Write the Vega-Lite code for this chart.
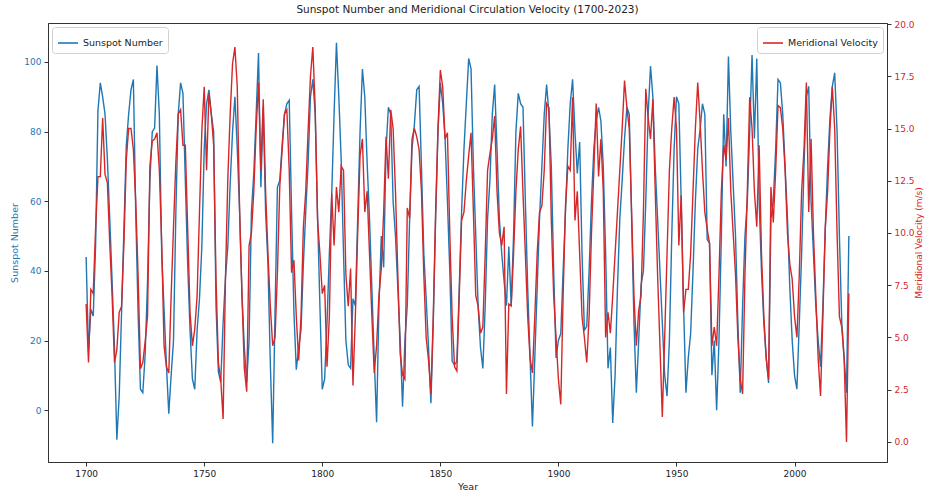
{
"$schema": "https://vega.github.io/schema/vega-lite/v6.json",
"width": 839, "height": 439,
"autosize": {"type": "none"},
"padding": {"left": 48, "top": 23, "right": 38, "bottom": 30},
"background": "white",
"config": {
  "font": "DejaVu Sans",
  "view": {"stroke": "#333", "strokeWidth": 1},
  "axis": {"grid": false, "domainColor": "#333", "tickColor": "#333", "tickSize": 4, "labelFontSize": 9, "titleFontSize": 9.5, "titleFontWeight": "normal", "labelPadding": 3, "labelFont": "DejaVu Sans", "titleFont": "DejaVu Sans"},
  "legend": {"labelFont": "DejaVu Sans"}
},
"title": {"text": "Sunspot Number and Meridional Circulation Velocity (1700-2023)", "fontSize": 10.5, "fontWeight": "normal", "color": "#222", "offset": 5, "font": "DejaVu Sans"},
"data": {"values": [
{"year":1700,"sunspot":44,"velocity":6.6},{"year":1701,"sunspot":17,"velocity":3.8},{"year":1702,"sunspot":29,"velocity":7.3},{"year":1703,"sunspot":27,"velocity":7.1},{"year":1704,"sunspot":47,"velocity":10.2},{"year":1705,"sunspot":86,"velocity":12.7},{"year":1706,"sunspot":94,"velocity":12.7},{"year":1707,"sunspot":90,"velocity":15.5},{"year":1708,"sunspot":85,"velocity":12.8},{"year":1709,"sunspot":72,"velocity":12.4},
{"year":1710,"sunspot":55,"velocity":9.5},{"year":1711,"sunspot":37,"velocity":7},{"year":1712,"sunspot":18,"velocity":3.8},{"year":1713,"sunspot":-8.5,"velocity":4.4},{"year":1714,"sunspot":4,"velocity":6.2},{"year":1715,"sunspot":28,"velocity":6.5},{"year":1716,"sunspot":52,"velocity":9.5},{"year":1717,"sunspot":76,"velocity":13.5},{"year":1718,"sunspot":85,"velocity":15},{"year":1719,"sunspot":92,"velocity":15},
{"year":1720,"sunspot":95,"velocity":14},{"year":1721,"sunspot":57,"velocity":11.5},{"year":1722,"sunspot":28,"velocity":8},{"year":1723,"sunspot":6,"velocity":3.5},{"year":1724,"sunspot":5,"velocity":3.8},{"year":1725,"sunspot":16,"velocity":4.8},{"year":1726,"sunspot":37,"velocity":6},{"year":1727,"sunspot":66,"velocity":13.2},{"year":1728,"sunspot":80,"velocity":14.4},{"year":1729,"sunspot":81,"velocity":14.5},
{"year":1730,"sunspot":99,"velocity":14.8},{"year":1731,"sunspot":85,"velocity":13},{"year":1732,"sunspot":45,"velocity":9.5},{"year":1733,"sunspot":29,"velocity":4.6},{"year":1734,"sunspot":13,"velocity":3.6},{"year":1735,"sunspot":-1,"velocity":3.3},{"year":1736,"sunspot":10,"velocity":7},{"year":1737,"sunspot":20,"velocity":10.3},{"year":1738,"sunspot":57,"velocity":13.4},{"year":1739,"sunspot":85,"velocity":15.7},
{"year":1740,"sunspot":94,"velocity":15.9},{"year":1741,"sunspot":91,"velocity":14.2},{"year":1742,"sunspot":66,"velocity":14.2},{"year":1743,"sunspot":42,"velocity":10.2},{"year":1744,"sunspot":23,"velocity":6.2},{"year":1745,"sunspot":9,"velocity":4.6},{"year":1746,"sunspot":6,"velocity":5.4},{"year":1747,"sunspot":23,"velocity":7},{"year":1748,"sunspot":32,"velocity":11},{"year":1749,"sunspot":47,"velocity":14.9},
{"year":1750,"sunspot":75,"velocity":17},{"year":1751,"sunspot":88,"velocity":13},{"year":1752,"sunspot":92,"velocity":16.7},{"year":1753,"sunspot":85,"velocity":15.7},{"year":1754,"sunspot":80,"velocity":14.2},{"year":1755,"sunspot":30,"velocity":7.8},{"year":1756,"sunspot":11,"velocity":3.8},{"year":1757,"sunspot":8,"velocity":3},{"year":1758,"sunspot":25,"velocity":1.1},{"year":1759,"sunspot":38,"velocity":7.8},
{"year":1760,"sunspot":47,"velocity":12.6},{"year":1761,"sunspot":65,"velocity":15.7},{"year":1762,"sunspot":80,"velocity":18.1},{"year":1763,"sunspot":90,"velocity":18.9},{"year":1764,"sunspot":75,"velocity":17},{"year":1765,"sunspot":57,"velocity":11},{"year":1766,"sunspot":33,"velocity":7},{"year":1767,"sunspot":18,"velocity":3.5},{"year":1768,"sunspot":8,"velocity":2.4},{"year":1769,"sunspot":20,"velocity":9.4},
{"year":1770,"sunspot":57,"velocity":10},{"year":1771,"sunspot":68,"velocity":12},{"year":1772,"sunspot":85,"velocity":15},{"year":1773,"sunspot":102.6,"velocity":17.2},{"year":1774,"sunspot":64,"velocity":13},{"year":1775,"sunspot":87,"velocity":16.4},{"year":1776,"sunspot":57,"velocity":12},{"year":1777,"sunspot":42,"velocity":9},{"year":1778,"sunspot":13.5,"velocity":6.5},{"year":1779,"sunspot":-9.5,"velocity":4.6},
{"year":1780,"sunspot":28,"velocity":5},{"year":1781,"sunspot":64,"velocity":8.1},{"year":1782,"sunspot":66,"velocity":12.2},{"year":1783,"sunspot":76,"velocity":14},{"year":1784,"sunspot":85,"velocity":15.7},{"year":1785,"sunspot":88,"velocity":15.9},{"year":1786,"sunspot":89,"velocity":13},{"year":1787,"sunspot":57,"velocity":8.1},{"year":1788,"sunspot":28,"velocity":8.7},{"year":1789,"sunspot":11.6,"velocity":6},
{"year":1790,"sunspot":18,"velocity":3.9},{"year":1791,"sunspot":23,"velocity":6},{"year":1792,"sunspot":42,"velocity":10.3},{"year":1793,"sunspot":57,"velocity":12},{"year":1794,"sunspot":71,"velocity":14.9},{"year":1795,"sunspot":90,"velocity":17.5},{"year":1796,"sunspot":95,"velocity":18.9},{"year":1797,"sunspot":85,"velocity":16},{"year":1798,"sunspot":56,"velocity":10.6},{"year":1799,"sunspot":30,"velocity":9},
{"year":1800,"sunspot":6,"velocity":7.1},{"year":1801,"sunspot":9,"velocity":7.5},{"year":1802,"sunspot":25,"velocity":3.6},{"year":1803,"sunspot":45,"velocity":6},{"year":1804,"sunspot":62,"velocity":11.9},{"year":1805,"sunspot":85,"velocity":9.4},{"year":1806,"sunspot":105.5,"velocity":12.2},{"year":1807,"sunspot":90,"velocity":11},{"year":1808,"sunspot":72,"velocity":13.2},{"year":1809,"sunspot":45,"velocity":13},
{"year":1810,"sunspot":20,"velocity":8},{"year":1811,"sunspot":13,"velocity":6.5},{"year":1812,"sunspot":12,"velocity":8.3},{"year":1813,"sunspot":32,"velocity":2.7},{"year":1814,"sunspot":30,"velocity":6},{"year":1815,"sunspot":55,"velocity":10},{"year":1816,"sunspot":80,"velocity":13.7},{"year":1817,"sunspot":98,"velocity":14.5},{"year":1818,"sunspot":90,"velocity":11},{"year":1819,"sunspot":71,"velocity":12},
{"year":1820,"sunspot":55,"velocity":9},{"year":1821,"sunspot":35,"velocity":6},{"year":1822,"sunspot":15,"velocity":3.3},{"year":1823,"sunspot":-3.5,"velocity":4.6},{"year":1824,"sunspot":30,"velocity":7},{"year":1825,"sunspot":50,"velocity":8.3},{"year":1826,"sunspot":41,"velocity":11},{"year":1827,"sunspot":75,"velocity":14.6},{"year":1828,"sunspot":87,"velocity":12.6},{"year":1829,"sunspot":85,"velocity":15.9},
{"year":1830,"sunspot":60,"velocity":15},{"year":1831,"sunspot":50,"velocity":12},{"year":1832,"sunspot":35,"velocity":8},{"year":1833,"sunspot":20,"velocity":4.2},{"year":1834,"sunspot":1,"velocity":3.2},{"year":1835,"sunspot":20,"velocity":3},{"year":1836,"sunspot":30,"velocity":11.2},{"year":1837,"sunspot":55,"velocity":10.7},{"year":1838,"sunspot":75,"velocity":14.5},{"year":1839,"sunspot":82,"velocity":15},
{"year":1840,"sunspot":92,"velocity":14.6},{"year":1841,"sunspot":93,"velocity":14},{"year":1842,"sunspot":70,"velocity":12},{"year":1843,"sunspot":45,"velocity":8},{"year":1844,"sunspot":32,"velocity":5},{"year":1845,"sunspot":18,"velocity":3.9},{"year":1846,"sunspot":2,"velocity":2.3},{"year":1847,"sunspot":25,"velocity":6},{"year":1848,"sunspot":55,"velocity":11},{"year":1849,"sunspot":80,"velocity":15},
{"year":1850,"sunspot":94,"velocity":17.8},{"year":1851,"sunspot":88,"velocity":17},{"year":1852,"sunspot":78,"velocity":14.5},{"year":1853,"sunspot":60,"velocity":14.8},{"year":1854,"sunspot":40,"velocity":10},{"year":1855,"sunspot":14,"velocity":6},{"year":1856,"sunspot":13,"velocity":3.6},{"year":1857,"sunspot":14,"velocity":3.4},{"year":1858,"sunspot":35,"velocity":7},{"year":1859,"sunspot":57,"velocity":10.6},
{"year":1860,"sunspot":75,"velocity":11},{"year":1861,"sunspot":88,"velocity":12.5},{"year":1862,"sunspot":101,"velocity":13.7},{"year":1863,"sunspot":98,"velocity":14.8},{"year":1864,"sunspot":70,"velocity":11},{"year":1865,"sunspot":50,"velocity":7},{"year":1866,"sunspot":30,"velocity":6.5},{"year":1867,"sunspot":18,"velocity":5.2},{"year":1868,"sunspot":12,"velocity":5.5},{"year":1869,"sunspot":30,"velocity":9},
{"year":1870,"sunspot":55,"velocity":13},{"year":1871,"sunspot":66,"velocity":13.8},{"year":1872,"sunspot":85,"velocity":14.5},{"year":1873,"sunspot":93.5,"velocity":15.6},{"year":1874,"sunspot":75,"velocity":12},{"year":1875,"sunspot":55,"velocity":10},{"year":1876,"sunspot":45,"velocity":9.4},{"year":1877,"sunspot":37,"velocity":10.3},{"year":1878,"sunspot":30,"velocity":2.3},{"year":1879,"sunspot":47,"velocity":6.6},
{"year":1880,"sunspot":30,"velocity":6.5},{"year":1881,"sunspot":50,"velocity":9},{"year":1882,"sunspot":80,"velocity":12},{"year":1883,"sunspot":91,"velocity":14},{"year":1884,"sunspot":88,"velocity":15.1},{"year":1885,"sunspot":87,"velocity":11.9},{"year":1886,"sunspot":60,"velocity":9},{"year":1887,"sunspot":35,"velocity":6},{"year":1888,"sunspot":15,"velocity":4},{"year":1889,"sunspot":-4.7,"velocity":3.3},
{"year":1890,"sunspot":15,"velocity":6},{"year":1891,"sunspot":35,"velocity":9},{"year":1892,"sunspot":55,"velocity":11},{"year":1893,"sunspot":70,"velocity":11.3},{"year":1894,"sunspot":85,"velocity":13},{"year":1895,"sunspot":93.5,"velocity":16.2},{"year":1896,"sunspot":85,"velocity":16},{"year":1897,"sunspot":70,"velocity":10.6},{"year":1898,"sunspot":40,"velocity":7},{"year":1899,"sunspot":15,"velocity":5},
{"year":1900,"sunspot":20,"velocity":3},{"year":1901,"sunspot":22,"velocity":1.8},{"year":1902,"sunspot":40,"velocity":7},{"year":1903,"sunspot":57,"velocity":11.3},{"year":1904,"sunspot":75,"velocity":13.2},{"year":1905,"sunspot":88,"velocity":13},{"year":1906,"sunspot":95,"velocity":16.5},{"year":1907,"sunspot":80,"velocity":10.6},{"year":1908,"sunspot":68,"velocity":12},{"year":1909,"sunspot":77,"velocity":9},
{"year":1910,"sunspot":45,"velocity":6},{"year":1911,"sunspot":23,"velocity":5},{"year":1912,"sunspot":24,"velocity":3.8},{"year":1913,"sunspot":40,"velocity":6},{"year":1914,"sunspot":60,"velocity":10},{"year":1915,"sunspot":75,"velocity":13},{"year":1916,"sunspot":83,"velocity":16.2},{"year":1917,"sunspot":87,"velocity":12.7},{"year":1918,"sunspot":83,"velocity":14.5},{"year":1919,"sunspot":70,"velocity":12},
{"year":1920,"sunspot":45,"velocity":5},{"year":1921,"sunspot":12,"velocity":6.2},{"year":1922,"sunspot":18,"velocity":5.2},{"year":1923,"sunspot":-3.7,"velocity":7},{"year":1924,"sunspot":10,"velocity":9},{"year":1925,"sunspot":35,"velocity":11},{"year":1926,"sunspot":55,"velocity":13},{"year":1927,"sunspot":66,"velocity":15},{"year":1928,"sunspot":78,"velocity":17.3},{"year":1929,"sunspot":87,"velocity":16},
{"year":1930,"sunspot":85,"velocity":15},{"year":1931,"sunspot":55,"velocity":11},{"year":1932,"sunspot":25,"velocity":7},{"year":1933,"sunspot":5,"velocity":4.6},{"year":1934,"sunspot":20,"velocity":6.3},{"year":1935,"sunspot":36,"velocity":7},{"year":1936,"sunspot":40,"velocity":11},{"year":1937,"sunspot":60,"velocity":16.9},{"year":1938,"sunspot":85,"velocity":15.5},{"year":1939,"sunspot":98.8,"velocity":14.5},
{"year":1940,"sunspot":90,"velocity":16.4},{"year":1941,"sunspot":70,"velocity":12},{"year":1942,"sunspot":55,"velocity":8},{"year":1943,"sunspot":40,"velocity":4.6},{"year":1944,"sunspot":25,"velocity":1.2},{"year":1945,"sunspot":10,"velocity":5},{"year":1946,"sunspot":4,"velocity":9},{"year":1947,"sunspot":20,"velocity":13},{"year":1948,"sunspot":50,"velocity":15},{"year":1949,"sunspot":75,"velocity":16.5},
{"year":1950,"sunspot":90,"velocity":15},{"year":1951,"sunspot":88,"velocity":9.4},{"year":1952,"sunspot":60,"velocity":11.8},{"year":1953,"sunspot":30,"velocity":6.2},{"year":1954,"sunspot":5,"velocity":7.3},{"year":1955,"sunspot":15,"velocity":7.3},{"year":1956,"sunspot":22,"velocity":9},{"year":1957,"sunspot":40,"velocity":12},{"year":1958,"sunspot":60,"velocity":15},{"year":1959,"sunspot":75,"velocity":17.2},
{"year":1960,"sunspot":80.6,"velocity":15.3},{"year":1961,"sunspot":88,"velocity":13},{"year":1962,"sunspot":85,"velocity":11},{"year":1963,"sunspot":49,"velocity":10.2},{"year":1964,"sunspot":48,"velocity":9.5},{"year":1965,"sunspot":10,"velocity":4.6},{"year":1966,"sunspot":20,"velocity":5.5},{"year":1967,"sunspot":0,"velocity":4.6},{"year":1968,"sunspot":20,"velocity":8},{"year":1969,"sunspot":50,"velocity":12},
{"year":1970,"sunspot":85,"velocity":14.2},{"year":1971,"sunspot":70,"velocity":13.5},{"year":1972,"sunspot":101.6,"velocity":15.5},{"year":1973,"sunspot":80,"velocity":12},{"year":1974,"sunspot":65,"velocity":10},{"year":1975,"sunspot":50,"velocity":8},{"year":1976,"sunspot":25,"velocity":5},{"year":1977,"sunspot":5,"velocity":3},{"year":1978,"sunspot":30,"velocity":2.3},{"year":1979,"sunspot":50,"velocity":8},
{"year":1980,"sunspot":60,"velocity":12},{"year":1981,"sunspot":80,"velocity":16.5},{"year":1982,"sunspot":102,"velocity":15},{"year":1983,"sunspot":78,"velocity":12},{"year":1984,"sunspot":101,"velocity":10.3},{"year":1985,"sunspot":60,"velocity":14.2},{"year":1986,"sunspot":40,"velocity":9},{"year":1987,"sunspot":25,"velocity":6},{"year":1988,"sunspot":15,"velocity":4},{"year":1989,"sunspot":7.8,"velocity":3},
{"year":1990,"sunspot":55,"velocity":12.2},{"year":1991,"sunspot":60,"velocity":10.5},{"year":1992,"sunspot":75,"velocity":13},{"year":1993,"sunspot":95,"velocity":16.1},{"year":1994,"sunspot":94,"velocity":16},{"year":1995,"sunspot":85,"velocity":15},{"year":1996,"sunspot":70,"velocity":13},{"year":1997,"sunspot":55,"velocity":10},{"year":1998,"sunspot":35,"velocity":8.5},{"year":1999,"sunspot":20,"velocity":7.8},
{"year":2000,"sunspot":10,"velocity":6},{"year":2001,"sunspot":6,"velocity":5},{"year":2002,"sunspot":25,"velocity":8},{"year":2003,"sunspot":45,"velocity":12},{"year":2004,"sunspot":70,"velocity":14},{"year":2005,"sunspot":90,"velocity":17.2},{"year":2006,"sunspot":93,"velocity":11},{"year":2007,"sunspot":60,"velocity":14.5},{"year":2008,"sunspot":45,"velocity":10},{"year":2009,"sunspot":30,"velocity":7},
{"year":2010,"sunspot":20,"velocity":4},{"year":2011,"sunspot":12.5,"velocity":2.2},{"year":2012,"sunspot":30,"velocity":6},{"year":2013,"sunspot":52,"velocity":10.2},{"year":2014,"sunspot":70,"velocity":12},{"year":2015,"sunspot":84,"velocity":15},{"year":2016,"sunspot":93,"velocity":17},{"year":2017,"sunspot":96.9,"velocity":15},{"year":2018,"sunspot":80,"velocity":10},{"year":2019,"sunspot":50,"velocity":6},
{"year":2020,"sunspot":25,"velocity":5.5},{"year":2021,"sunspot":15,"velocity":4},{"year":2022,"sunspot":5,"velocity":0},{"year":2023,"sunspot":50,"velocity":7.1}
]},
"encoding": {
  "x": {"field": "year", "type": "quantitative", "scale": {"domain": [1683.85, 2039.15], "nice": false, "zero": false},
        "axis": {"values": [1700, 1750, 1800, 1850, 1900, 1950, 2000], "format": "d", "title": "Year", "labelColor": "#222", "titleColor": "#222", "titlePadding": 3}}
},
"layer": [
  {
    "mark": {"type": "line", "strokeWidth": 1.4},
    "encoding": {
      "y": {"field": "sunspot", "type": "quantitative", "scale": {"domain": [-14.9, 111.2], "nice": false, "zero": false},
            "axis": {"orient": "left", "values": [0, 20, 40, 60, 80, 100], "title": "Sunspot Number", "labelColor": "#1f77b4", "titleColor": "#1f77b4", "titlePadding": 4}},
      "color": {"datum": "Sunspot Number", "type": "nominal", "scale": {"range": ["#1f77b4"]},
                "legend": {"title": null, "orient": "top-left", "offset": 4, "symbolType": "stroke", "symbolSize": 400, "symbolStrokeWidth": 1.6, "labelFontSize": 9.5, "labelColor": "#222", "padding": 5, "strokeColor": "#d0d0d0", "fillColor": "white", "cornerRadius": 3}}
    }
  },
  {
    "mark": {"type": "line", "strokeWidth": 1.4},
    "encoding": {
      "y": {"field": "velocity", "type": "quantitative", "scale": {"domain": [-0.96, 20.05], "nice": false, "zero": false},
            "axis": {"orient": "right", "values": [0, 2.5, 5, 7.5, 10, 12.5, 15, 17.5, 20], "format": ".1f", "title": "Meridional Velocity (m/s)", "titleAngle": 270, "titleBaseline": "bottom", "titleFontSize": 9, "labelColor": "#d62728", "titleColor": "#d62728", "titlePadding": 9}},
      "color": {"datum": "Meridional Velocity", "type": "nominal", "scale": {"range": ["#d62728"]},
                "legend": {"title": null, "orient": "top-right", "offset": 4, "symbolType": "stroke", "symbolSize": 400, "symbolStrokeWidth": 1.6, "labelFontSize": 9.5, "labelColor": "#222", "padding": 5, "strokeColor": "#d0d0d0", "fillColor": "white", "cornerRadius": 3}}
    }
  }
],
"resolve": {"scale": {"y": "independent", "color": "independent"}}
}
